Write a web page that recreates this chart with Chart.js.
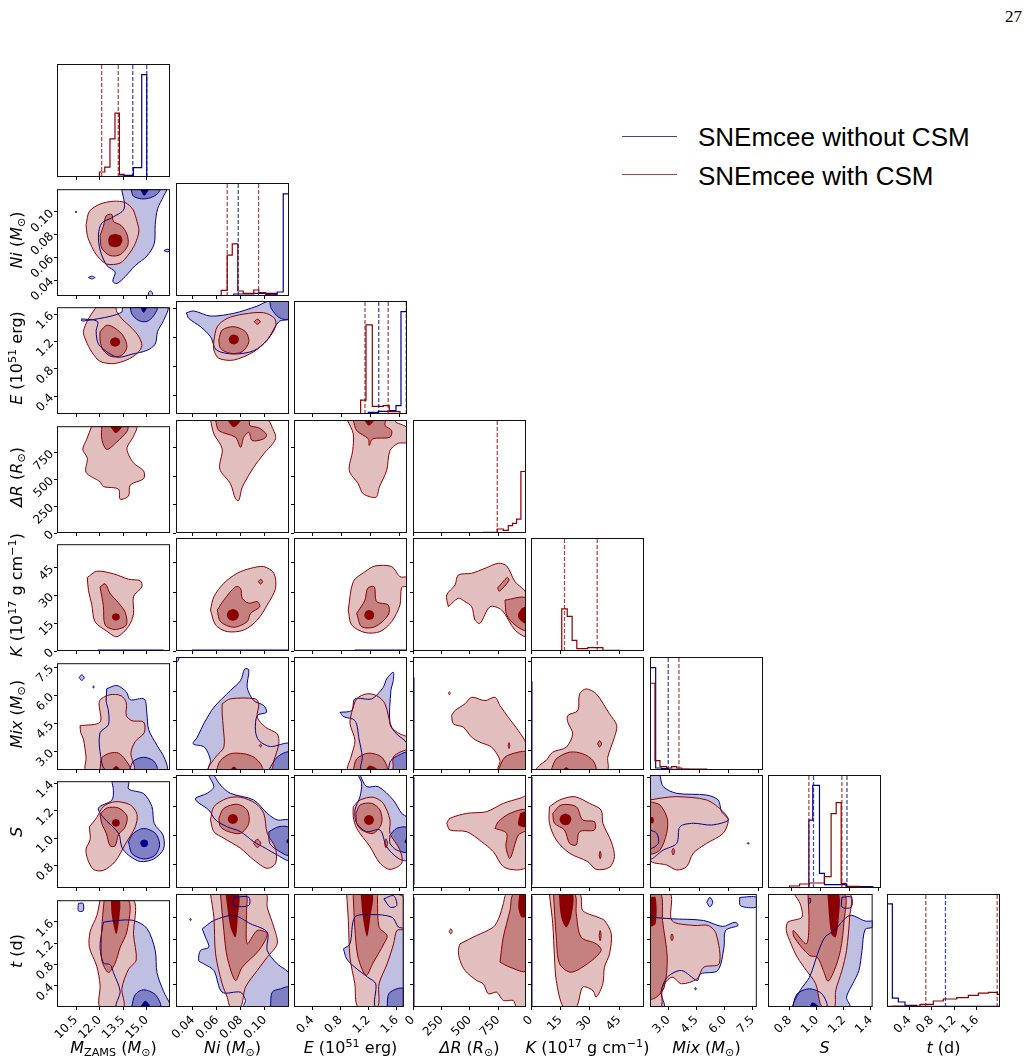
<!DOCTYPE html>
<html><head><meta charset="utf-8">
<script src="https://cdn.jsdelivr.net/npm/chart.js@4/dist/chart.umd.min.js"></script>
<style>
body{margin:0;background:#fff;width:1029px;height:1064px;position:relative;overflow:hidden;font-family:"DejaVu Sans";}
canvas{position:absolute;}
.ttl{position:absolute;font-family:"DejaVu Sans";font-size:16px;line-height:18px;white-space:nowrap;color:#000;}
.ttl sub{font-size:0.7em;vertical-align:-0.3em;line-height:0;}
.ttl sup{font-size:0.7em;vertical-align:0.5em;line-height:0;}
.leg{position:absolute;font-family:"Liberation Sans";font-size:26px;line-height:26px;white-space:nowrap;color:#000;}
.legline{position:absolute;height:0;width:55px;}
</style></head><body>
<div style="position:absolute;right:7px;top:8px;font-family:'Liberation Serif';font-size:17px;line-height:17px;">27</div>
<div class="legline" style="left:622px;top:136px;border-top:1.5px solid rgba(0,0,139,0.75);"></div>
<div class="legline" style="left:622px;top:174px;border-top:1.5px solid rgba(139,0,0,0.75);"></div>
<div class="leg" style="left:698px;top:124px;">SNEmcee without CSM</div>
<div class="leg" style="left:698px;top:163px;">SNEmcee with CSM</div>
<script>
// ---------------- axes ----------------
const paramTitles = [
 '<i>M</i><sub>ZAMS</sub> (<i>M</i><sub>⊙</sub>)',
 '<i>Ni</i> (<i>M</i><sub>⊙</sub>)',
 '<i>E</i> (10<sup>51</sup> erg)',
 '<i>ΔR</i> (<i>R</i><sub>⊙</sub>)',
 '<i>K</i> (10<sup>17</sup> g cm<sup>−1</sup>)',
 '<i>Mix</i> (<i>M</i><sub>⊙</sub>)',
 '<i>S</i>',
 '<i>t</i> (d)'
];
const axisMin = [9.29, 0.026, 0.14, 0, 0, 2.02, 0.637, 0];
const axisMax = [16.48, 0.12, 1.70, 995, 57.7, 7.72, 1.414, 2.01];
const tickVals = [[10.5,12,13.5,15],[0.04,0.06,0.08,0.10],[0.4,0.8,1.2,1.6],[0,250,500,750],[0,15,30,45],[3.0,4.5,6.0,7.5],[0.8,1.0,1.2,1.4],[0.4,0.8,1.2,1.6]];
const tickLabels = [["10.5","12.0","13.5","15.0"],["0.04","0.06","0.08","0.10"],["0.4","0.8","1.2","1.6"],["0","250","500","750"],["0","15","30","45"],["3.0","4.5","6.0","7.5"],["0.8","1.0","1.2","1.4"],["0.4","0.8","1.2","1.6"]];
const HIST_YMAX = 340;

// ---------------- 1D histograms: [binLeftEdge, count] ... [lastEdge, 0] ----------------
const hRed0 = [[11.99,15],[12.33,30],[12.66,115],[12.98,192],[13.26,8],[13.56,0]];
const hBlue0 = [[13.26,3],[13.56,5],[14.15,28],[14.68,308],[15.0,0]];
const hRed1 = [[0.0636,17],[0.0686,123],[0.0728,157],[0.0774,15],[0.0819,8],[0.0907,18],[0.0949,10],[0.1005,5],[0.1102,0]];
const hBlue1 = [[0.0741,6],[0.0907,8],[0.1102,12],[0.1152,307],[0.12,0]];
const hRed2 = [[1.06,42],[1.134,268],[1.221,23],[1.373,25],[1.455,7],[1.603,0]];
const hBlue2 = [[1.166,5],[1.303,8],[1.465,10],[1.548,25],[1.617,308],[1.70,0]];
const hRed3 = [[619,2],[742,12],[795,8],[839,22],[877,29],[912,42],[950,185],[994,0]];
const hBlue3 = [[0,400],[3,0]];
const hRed4 = [[15.7,127],[18.5,104],[21.0,32],[23.4,7],[29.0,10],[33.3,10],[36.7,2],[45.2,0]];
const hBlue4 = [[0,400],[0.2,0]];
const hRed5 = [[2.02,261],[2.272,28],[2.524,10],[2.86,6],[3.113,10],[3.365,6],[3.617,3],[4.88,0]];
const hBlue5 = [[2.02,308],[2.306,6],[2.608,4],[2.944,2],[4.0,0]];
const hRed6 = [[0.785,6],[0.854,12],[0.922,15],[1.025,34],[1.071,224],[1.106,257],[1.14,14],[1.175,5],[1.266,0]];
const hBlue6 = [[0.918,204],[0.945,309],[0.991,44],[1.025,10],[1.175,4],[1.358,0]];
const hRed7 = [[0.0,2],[0.095,3],[0.587,8],[0.824,18],[1.002,24],[1.24,28],[1.447,35],[1.625,42],[1.803,44],[1.963,38],[2.01,0]];
const hBlue7 = [[0.0,310],[0.095,27],[0.202,15],[0.32,5],[0.528,2],[2.0,0]];
// quantile (dashed) lines
const qRed = [[12.13,13.19],[0.0686,0.0947],[1.12,1.44],[742],[17.1,33.8],[3.48],[0.918,1.145],[0.69,1.96]];
const qBlue = [[14.11,15.0],[0.0778],[1.31,1.69],[],[],[2.94],[0.95,1.18],[1.04]];

// ---------------- 2D contours: [light level polys, middle polys, inner polys]; polys are flat x,y lists ----------------
const NONE = [[],[],[]];
const blue10 = [
 [[13.41,0.12,13.56,0.1027,12.78,0.0949,12.14,0.0902,11.93,0.0805,12.03,0.0666,12.46,0.0528,12.99,0.0472,12.84,0.0389,13.1,0.037,13.63,0.0431,14.27,0.0528,15.01,0.0611,15.48,0.0722,15.54,0.0888,15.69,0.1027,16.07,0.1138,16.23,0.12],
  [10.45,0.1,10.5,0.1008,10.55,0.1,10.5,0.0992],[11.3,0.0422,11.5,0.0435,11.7,0.0422,11.5,0.041],[16.1,0.066,16.3,0.0672,16.48,0.066,16.3,0.0648],[15.1,0.026,15.12,0.029,15.22,0.0305,15.35,0.029,15.35,0.026]],
 [[14.0,0.12,14.16,0.1138,14.69,0.1115,15.22,0.1124,15.69,0.116,15.82,0.12]],
 [[14.59,0.12,14.7,0.1165,14.84,0.1145,15.0,0.1165,15.12,0.12]]
];
const red10 = [
 [[11.14,0.0888,11.35,0.1005,12.03,0.1069,12.88,0.1094,13.63,0.1082,14.12,0.1021,14.38,0.0916,14.5,0.0832,14.27,0.0722,13.84,0.0624,13.31,0.055,12.46,0.0541,11.86,0.0611,11.5,0.0694,11.22,0.0791]],
 [[12.03,0.0791,12.24,0.0874,12.42,0.0966,12.78,0.0977,12.88,0.0916,13.36,0.0882,13.74,0.0805,13.8,0.0708,13.31,0.0624,12.67,0.0616,12.14,0.068]],
 [[12.99,0.0807,13.35,0.079,13.45,0.0749,13.3,0.0705,12.99,0.069,12.65,0.0705,12.55,0.0749,12.65,0.079]]
];
const blue20 = [
 [[10.86,1.53,11.86,1.492,11.78,1.345,11.93,1.161,12.56,1.033,13.2,0.968,14.06,1.014,15.01,1.069,15.54,1.161,15.69,1.345,16.07,1.506,16.33,1.70,13.48,1.70,13.42,1.63,12.67,1.566,11.22,1.506,10.86,1.50]],
 [[13.95,1.70,14.06,1.599,14.48,1.506,15.01,1.492,15.44,1.575,15.65,1.70]],
 [[14.59,1.70,14.8,1.62,15.01,1.70]]
];
const red20 = [
 [[11.78,1.70,11.29,1.53,10.97,1.345,11.14,1.207,11.5,1.047,12.03,0.909,12.88,0.876,13.74,0.931,14.38,1.023,14.69,1.138,14.48,1.276,14.06,1.392,13.42,1.53,13.1,1.63,12.99,1.70]],
 [[12.03,1.345,12.46,1.437,12.99,1.392,13.52,1.276,13.74,1.116,13.42,1.0,12.78,0.977,12.24,1.069,12.03,1.207]],
 [[12.99,1.262,13.22,1.24,13.31,1.193,13.22,1.145,12.99,1.124,12.76,1.145,12.67,1.193,12.76,1.24]]
];
const blue21 = [
 [[0.0347,1.538,0.0408,1.562,0.0547,1.492,0.0741,1.53,0.0936,1.63,0.1032,1.70,0.12,1.70,0.12,1.46,0.1115,1.414,0.1019,1.161,0.0907,1.014,0.0741,0.968,0.0597,1.023,0.0547,1.207,0.0464,1.345,0.0366,1.46]],
 [[0.104,1.70,0.12,1.70,0.12,1.45,0.1115,1.474,0.1052,1.599]],
 []
];
const red21 = [
 [[0.0575,1.161,0.0603,1.345,0.0686,1.46,0.0824,1.52,0.099,1.538,0.108,1.46,0.1088,1.345,0.1019,1.161,0.0907,1.0,0.0741,0.885,0.0616,0.909,0.0575,1.023]],
 [[0.0616,1.161,0.0644,1.299,0.0741,1.345,0.0838,1.276,0.0866,1.138,0.0811,1.0,0.0713,0.977,0.063,1.047],[0.0911,1.414,0.0936,1.449,0.0961,1.414,0.0936,1.379]],
 [[0.0741,1.239,0.0771,1.219,0.0783,1.17,0.0771,1.121,0.0741,1.101,0.0711,1.121,0.0699,1.17,0.0711,1.219]]
];
const red30 = [
 [[11.5,995,11.18,873,10.93,779,11.22,697,11.14,565,12.03,477,12.24,433,13.2,409,13.31,315,13.84,345,13.95,447,14.8,506,14.8,579,14.16,653,13.74,785,14.16,902,14.33,995]],
 [[12.14,995,12.14,873,12.46,779,13.1,849,13.74,946,13.78,995]],
 [[12.67,995,13.03,931,13.42,995]]
];
const red31 = [
 [[0.0547,995,0.0575,873,0.0644,741,0.0624,565,0.0713,433,0.0755,301,0.0782,286,0.0811,403,0.0907,579,0.099,697,0.1088,829,0.106,931,0.1019,995]],
 [[0.0589,995,0.0616,902,0.0755,843,0.0797,755,0.0824,843,0.0866,887,0.0894,814,0.099,829,0.1013,867,0.0949,926,0.0874,946,0.0866,995]],
 [[0.0686,995,0.0741,931,0.0797,995]]
];
const red32 = [
 [[0.876,995,0.958,873,0.95,726,0.903,550,1.027,433,1.096,345,1.272,315,1.317,403,1.419,550,1.465,726,1.579,790,1.70,799,1.70,926,1.548,975,1.534,995]],
 [[0.958,995,1.005,902,1.165,829,1.179,770,1.226,829,1.465,843,1.488,902,1.396,946,1.396,995]],
 [[1.106,995,1.175,946,1.244,995]]
];
const red40 = [
 [[11.22,39.7,11.82,43.1,12.88,41.7,13.84,38.8,14.59,37.9,14.69,34.6,14.16,29.5,14.16,20.1,13.84,13.3,13.1,7.7,12.46,10.7,11.71,15.8,11.5,25.2,11.29,32.8]],
 [[12.03,34.6,12.35,36.3,12.67,31.1,13.2,26.0,13.63,20.9,13.7,14.1,12.99,11.6,12.35,14.1,12.24,24.4]],
 [[13.04,20.4,13.22,19.8,13.29,18.4,13.22,17.0,13.04,16.4,12.86,17.0,12.79,18.4,12.86,19.8]]
];
const red41 = [
 [[0.0547,20.9,0.0575,27.7,0.0658,34.6,0.0769,39.7,0.088,42.2,0.099,43.1,0.1074,39.7,0.1088,32.0,0.1019,23.5,0.0936,15.8,0.0824,10.7,0.0686,9.9,0.0589,13.3]],
 [[0.0603,20.9,0.0658,26.0,0.0755,32.8,0.0797,32.0,0.0811,26.9,0.0866,24.4,0.0936,25.2,0.0957,22.6,0.088,19.2,0.0852,15.0,0.0741,12.1,0.063,15.0],[0.0945,35.4,0.0963,36.6,0.0981,35.4,0.0963,34.2]],
 [[0.0733,21.4,0.0768,20.5,0.0783,18.4,0.0768,16.3,0.0733,15.4,0.0698,16.3,0.0683,18.4,0.0698,20.5]]
];
const red42 = [
 [[0.889,20.9,0.958,35.4,1.12,40.5,1.258,43.4,1.488,43.1,1.603,37.9,1.70,37.6,1.70,33.2,1.626,32.5,1.603,23.5,1.488,15.0,1.327,9.9,1.12,9.4,0.936,13.3]],
 [[1.005,19.2,1.12,26.0,1.157,32.0,1.248,32.8,1.281,25.2,1.441,23.5,1.441,18.4,1.258,12.4,1.074,12.4]],
 [[1.179,20.9,1.228,20.2,1.248,18.4,1.228,16.6,1.179,15.9,1.13,16.6,1.11,18.4,1.13,20.2]]
];
const red43 = [
 [[311,22.6,297,28.6,370,33.7,399,38.8,517,39.7,634,42.2,751,44.8,825,43.4,898,35.4,995,29.5,995,7.7,898,10.7,781,20.9,678,22.6,590,14.1,546,15.8,517,22.6,458,25.2,399,26.9]],
 [[810,26.0,995,26.9,995,10.7,898,13.3,825,18.4],[745,32.2,760,30.5,845,36.0,830,37.5]],
 [[956,21.8,995,22.6,995,14.1,942,15.8,924,18.4]]
];
const blue50 = [
 [[12.46,6.36,13.1,6.53,13.7,6.19,13.95,5.77,14.84,5.81,15.01,5.02,15.12,4.18,15.65,3.34,16.12,2.67,16.25,2.02,12.42,2.02,12.03,3.0,12.03,4.01,12.56,4.43,12.56,5.18,12.42,5.69],
  [10.7,6.95,10.86,7.1,11.02,6.95,10.86,6.8],[11.55,6.45,11.61,6.5,11.67,6.45,11.61,6.4]],
 [[13.9,2.02,14.16,2.5,14.8,2.7,15.44,2.5,15.65,2.02]],
 []
];
const red50 = [
 [[10.76,4.38,12.03,4.58,11.99,5.69,12.63,6.03,13.36,5.99,13.7,5.61,13.7,4.93,14.06,4.65,14.8,4.58,14.84,4.01,14.27,3.54,13.99,2.92,14.16,2.02,11.14,2.02,11.14,2.67,10.97,3.67,10.8,4.01]],
 [[12.03,2.02,12.14,2.67,12.67,2.92,13.2,2.92,13.63,2.58,13.95,2.02]],
 [[12.78,2.02,13.04,2.23,13.31,2.02]]
];
const blue51 = [
 [[0.0497,4.43,0.0575,5.18,0.0713,6.03,0.0797,6.53,0.0832,7.12,0.0866,7.07,0.0852,6.19,0.0907,5.52,0.099,5.27,0.1013,4.93,0.0936,4.77,0.0921,4.01,0.0949,3.51,0.1046,3.2,0.12,3.34,0.12,2.02,0.0533,2.02,0.0547,2.5,0.0497,3.17,0.0403,3.34,0.0436,3.67],
  [0.026,7.72,0.0285,7.72,0.0275,7.5,0.026,7.45]],
 [[0.1032,2.02,0.1102,2.67,0.12,2.92,0.12,2.02]],
 []
];
const red51 = [
 [[0.0644,5.36,0.0713,5.61,0.0921,5.61,0.0949,5.36,0.0936,4.68,0.1005,4.18,0.1102,3.84,0.1115,3.34,0.1074,2.5,0.1046,2.02,0.0533,2.02,0.0589,2.67,0.0658,3.17,0.0653,4.18,0.0644,4.85]],
 [[0.0597,2.02,0.063,2.5,0.0713,2.84,0.0824,2.84,0.0907,2.67,0.0963,2.33,0.0977,2.02],[0.0953,3.25,0.0963,3.32,0.0973,3.25,0.0963,3.18]],
 [[0.0708,2.02,0.0741,2.2,0.0769,2.02]]
];
const blue52 = [
 [[0.775,4.93,0.936,5.02,0.982,5.61,1.212,5.61,1.372,6.19,1.419,6.62,1.51,6.95,1.51,6.53,1.478,6.03,1.465,4.35,1.557,3.84,1.70,3.34,1.70,2.02,1.074,2.02,1.083,2.67,1.037,3.6,0.982,4.51,0.82,4.72]],
 [[1.441,2.02,1.478,2.5,1.603,2.8,1.70,2.9,1.70,2.02]],
 []
];
const red52 = [
 [[0.936,4.93,1.005,5.61,1.143,5.86,1.281,5.77,1.396,5.36,1.488,4.18,1.603,3.84,1.70,3.67,1.70,3.09,1.603,2.92,1.51,2.67,1.488,2.02,0.889,2.02,0.927,2.67,0.982,3.51,0.913,4.35]],
 [[0.958,2.02,1.005,2.58,1.165,2.87,1.35,2.67,1.419,2.02]],
 [[1.126,2.02,1.189,2.25,1.30,2.02]]
];
const red53 = [
 [[340,4.77,370,5.02,458,5.36,517,5.69,634,5.52,722,5.69,766,5.27,839,4.68,927,4.01,995,3.34,995,2.02,751,2.02,766,2.5,693,3.17,590,3.42,517,3.67,443,4.18,355,4.35],[312,5.89,320,5.97,328,5.89,320,5.81]],
 [[751,2.02,810,2.67,927,2.92,995,2.92,995,2.02],[838,3.25,845,3.4,852,3.25,845,3.1]],
 []
];
const red54 = [
 [[7.8,2.5,11.1,2.92,18.0,3.17,21.3,3.84,18.8,4.43,18.8,4.77,23.9,5.02,24.8,5.86,28.2,6.11,33.3,5.86,40.1,4.85,43.8,4.26,42.6,3.67,39.2,2.67,38.7,2.02,2.7,2.02,4.3,2.25]],
 [[10.3,2.02,12.9,2.58,19.7,2.92,26.4,2.84,31.6,2.5,32.9,2.02],[34.0,3.34,35.0,3.5,36.0,3.34,35.0,3.18]],
 [[16.2,2.02,18.0,2.16,19.7,2.02]]
];
const blue60 = [
 [[12.78,1.414,13.84,1.414,13.84,1.357,14.8,1.323,15.33,1.23,15.48,1.105,16.03,1.024,16.07,0.921,15.44,0.848,14.59,0.83,13.84,0.876,13.42,0.933,13.2,1.036,12.24,1.15,11.93,1.219,12.78,1.276,12.88,1.345]],
 [[13.84,0.975,14.16,1.036,14.8,1.07,15.54,1.036,15.82,0.955,15.54,0.876,14.8,0.848,14.06,0.887]],
 [[14.84,0.99,15.02,0.982,15.09,0.962,15.02,0.942,14.84,0.934,14.66,0.942,14.59,0.962,14.66,0.982]]
];
const red60 = [
 [[11.35,1.082,11.82,1.15,12.24,1.23,12.99,1.265,13.95,1.242,14.38,1.173,14.27,1.082,13.63,0.955,12.99,0.83,12.24,0.765,11.61,0.772,11.22,0.852,11.14,0.921,11.4,0.99]],
 [[12.03,1.173,12.46,1.219,13.2,1.219,13.74,1.162,13.63,1.082,13.2,1.024,12.99,0.944,12.67,0.944,12.42,1.036,12.14,1.105]],
 [[13.04,1.139,13.22,1.131,13.29,1.111,13.22,1.091,13.04,1.083,12.86,1.091,12.79,1.111,12.86,1.131]]
];
const blue61 = [
 [[0.0575,1.414,0.063,1.345,0.0713,1.288,0.0907,1.242,0.1019,1.15,0.1102,1.105,0.12,1.10,0.12,0.83,0.1102,0.864,0.1005,0.91,0.0907,0.955,0.0797,1.024,0.0686,1.058,0.0589,1.105,0.0533,1.173,0.0436,1.23,0.0422,1.254,0.0519,1.288,0.0575,1.334,0.0533,1.414]],
 [[0.1032,1.024,0.1115,1.058,0.12,1.05,0.12,0.864,0.1102,0.898,0.104,0.944]],
 [[0.118,0.965,0.12,0.975,0.12,0.945,0.118,0.95]]
];
const red61 = [
 [[0.0547,1.105,0.0575,1.196,0.0686,1.254,0.0797,1.261,0.0921,1.219,0.099,1.15,0.1019,1.013,0.1088,0.91,0.1088,0.807,0.1019,0.772,0.0907,0.83,0.0797,0.91,0.0658,0.979,0.0575,1.024]],
 [[0.0616,1.116,0.0658,1.185,0.0769,1.213,0.0852,1.173,0.0866,1.082,0.0797,1.013,0.0699,1.024,0.063,1.058],[0.0906,0.944,0.0936,0.972,0.0966,0.944,0.0936,0.916]],
 [[0.0733,1.145,0.0763,1.135,0.0775,1.111,0.0763,1.087,0.0733,1.077,0.0703,1.087,0.0691,1.111,0.0703,1.135]]
];
const blue62 = [
 [[1.051,1.414,1.143,1.334,1.303,1.334,1.51,1.242,1.626,1.15,1.70,1.12,1.70,0.83,1.579,0.841,1.419,0.921,1.327,1.036,1.143,1.024,1.005,1.082,0.982,1.173,1.051,1.265,1.074,1.357,1.027,1.414]],
 [[1.465,1.001,1.557,1.047,1.70,1.05,1.70,0.887,1.557,0.898,1.465,0.944]],
 [[1.67,0.965,1.70,0.975,1.70,0.945,1.67,0.95]]
];
const red62 = [
 [[0.958,1.196,1.051,1.242,1.234,1.261,1.372,1.219,1.465,1.105,1.465,1.013,1.603,0.898,1.626,0.807,1.465,0.765,1.327,0.807,1.189,0.921,1.005,1.047,0.958,1.127]],
 [[0.996,1.15,1.051,1.208,1.212,1.219,1.327,1.173,1.35,1.082,1.234,1.013,1.074,1.036,1.005,1.082],[1.39,0.944,1.41,0.975,1.43,0.944,1.41,0.913]],
 [[1.175,1.139,1.224,1.129,1.244,1.105,1.224,1.081,1.175,1.071,1.126,1.081,1.106,1.105,1.126,1.129]]
];
const red63 = [
 [[297,1.082,326,1.116,473,1.15,649,1.162,795,1.219,942,1.254,995,1.265,995,0.784,912,0.761,795,0.784,707,0.887,605,0.955,473,1.024,326,1.036]],
 [[722,1.047,751,1.093,854,1.15,995,1.173,995,1.036,927,1.001,854,0.841,818,0.921,825,1.013]],
 [[942,1.15,995,1.16,995,1.058,927,1.07]]
];
const red64 = [
 [[9.4,1.196,14.6,1.242,22.2,1.265,29.9,1.219,35.8,1.173,36.7,1.082,41.0,0.955,42.6,0.852,40.1,0.779,33.3,0.765,29.0,0.818,19.7,0.876,12.9,0.967,9.4,1.082]],
 [[11.1,1.15,15.4,1.208,23.1,1.196,26.4,1.105,32.4,1.093,32.4,1.036,24.8,1.024,23.1,0.933,19.7,0.944,17.1,1.036,12.0,1.082],[34.8,0.864,35.3,0.89,35.8,0.864,35.3,0.838]],
 [[17.6,1.149,19.7,1.137,20.6,1.109,19.7,1.081,17.6,1.069,15.5,1.081,14.6,1.109,15.5,1.137]]
];
const blue65 = [
 [[2.52,1.414,2.69,1.334,3.37,1.288,4.88,1.276,5.46,1.242,5.63,1.162,5.97,1.105,5.13,1.07,4.2,1.082,3.53,1.058,3.37,0.944,2.69,0.898,2.02,0.841,2.02,1.414],[6.92,0.944,6.97,0.95,7.02,0.944,6.97,0.938]],
 [[2.02,1.036,2.36,1.013,2.44,0.944,2.02,0.91]],
 [[2.02,0.97,2.12,0.96,2.02,0.95]]
];
const red65 = [
 [[2.02,1.242,2.52,1.254,3.37,1.265,4.88,1.242,5.71,1.162,5.97,1.105,5.71,1.013,4.88,0.944,4.2,0.876,3.87,0.784,3.37,0.761,2.86,0.795,2.02,0.83]],
 [[2.02,1.23,2.52,1.208,2.89,1.116,2.86,1.013,2.52,0.898,2.02,0.876],[3.12,0.887,3.19,0.91,3.26,0.887,3.19,0.864]],
 [[2.02,1.127,2.19,1.12,2.19,1.085,2.02,1.082]]
];
const blue70 = [
 [[12.24,1.597,13.1,1.628,14.16,1.628,15.01,1.48,15.54,1.064,15.65,0.649,16.07,0.294,16.48,0.057,16.48,0,13.1,0,13.31,0.294,12.88,0.649,12.67,0.797,12.24,0.827,12.03,1.124,12.14,1.42],
  [10.65,1.95,10.95,1.95,10.95,1.81,10.65,1.81]],
 [[14.04,0,14.27,0.235,14.8,0.324,15.54,0.235,15.86,0]],
 [[14.59,0,14.91,0.116,15.22,0]]
];
const red70 = [
 [[12.03,2.01,11.82,1.717,11.4,1.42,11.35,1.124,11.82,0.768,12.03,0.413,12.03,0,13.52,0,13.42,0.352,13.84,0.708,14.33,0.886,14.16,1.361,14.16,2.01]],
 [[12.29,2.01,12.14,1.48,12.14,0.886,12.56,0.649,12.99,0.827,13.31,1.124,13.74,1.42,13.84,2.01]],
 [[12.72,2.01,12.78,1.717,13.06,1.373,13.27,1.717,13.27,2.01]]
];
const blue71 = [
 [[0.0478,1.39,0.0575,1.539,0.0741,1.628,0.088,1.48,0.1019,1.331,0.1019,1.005,0.1102,0.768,0.12,0.59,0.12,0,0.0824,0,0.0838,0.116,0.0797,0.263,0.0644,0.263,0.0575,0.649,0.0491,0.768,0.0449,0.827,0.0464,1.005,0.0533,1.064,0.0505,1.242],
  [0.0741,1.953,0.0866,1.953,0.0866,1.806,0.0741,1.806],[0.0375,1.555,0.0381,1.575,0.0387,1.555,0.0381,1.535]],
 [[0.1046,0,0.106,0.263,0.113,0.324,0.12,0.35,0.12,0]],
 []
];
const red71 = [
 [[0.0547,2.01,0.0575,1.597,0.0589,0.946,0.0644,0.413,0.0686,0.174,0.0713,0,0.0797,0,0.0838,0.352,0.0936,0.649,0.1019,0.886,0.1102,1.124,0.1074,1.42,0.1019,1.775,0.1005,2.01]],
 [[0.063,2.01,0.0658,1.361,0.0686,0.886,0.0755,0.471,0.0811,0.708,0.0949,1.005,0.1019,1.302,0.0936,1.361,0.0852,1.124,0.0847,1.717,0.0838,2.01]],
 [[0.0672,2.01,0.0713,1.42,0.0755,1.242,0.0774,1.597,0.0782,2.01]]
];
const blue72 = [
 [[0.844,1.035,0.936,1.124,1.005,1.597,1.234,1.645,1.534,1.597,1.626,1.42,1.70,1.39,1.70,0,1.303,0,1.303,0.413,1.189,0.53,1.005,0.708,0.889,0.857],
  [1.419,1.925,1.557,1.98,1.603,1.806,1.51,1.775]],
 [[1.465,0,1.488,0.235,1.603,0.324,1.70,0.324,1.70,0]],
 []
];
const red72 = [
 [[0.889,2.01,0.913,1.539,0.936,0.886,1.005,0.413,1.051,0,1.327,0,1.35,0.413,1.465,0.768,1.557,1.124,1.603,1.361,1.70,1.39,1.70,1.95,1.557,2.01]],
 [[0.982,2.01,1.005,1.42,1.051,0.886,1.165,0.56,1.258,0.768,1.419,1.124,1.465,1.272,1.35,1.42,1.327,1.953,1.327,2.01]],
 [[1.088,2.01,1.12,1.597,1.179,1.254,1.226,1.597,1.258,2.01]]
];
const red73 = [
 [[414,1.124,560,1.272,707,1.42,759,1.597,795,1.836,825,2.01,995,2.01,995,0,912,0,883,0.116,795,0.116,737,0.263,663,0.235,619,0.413,560,0.471,458,0.649,414,0.827,399,1.005],[320,1.343,332,1.39,345,1.343,332,1.30]],
 [[766,0.797,795,1.242,854,1.717,883,2.01,995,2.01,995,0.649,854,0.708]],
 [[936,2.01,927,1.775,956,1.597,995,1.62,995,2.01]]
];
const red74 = [
 [[9.4,2.01,11.1,1.48,12.0,0.886,12.9,0.471,16.6,0,23.1,0,26.4,0.352,31.6,0.294,33.3,0.174,36.7,0.413,37.5,0.708,40.1,0.946,41.0,1.302,37.5,1.539,34.1,1.597,26.4,1.717,24.8,2.01]],
 [[11.5,2.01,12.9,1.242,14.6,0.768,20.5,0.619,29.9,0.797,35.8,1.005,33.3,1.124,25.6,1.242,23.1,1.658,22.2,2.01],[34.8,1.272,35.3,1.36,35.8,1.272,35.3,1.18]],
 [[14.2,2.01,15.4,1.597,18.0,1.42,20.5,1.597,21.3,2.01]]
];
const blue75 = [
 [[2.02,1.597,3.19,1.569,4.88,1.539,5.89,1.432,6.56,1.509,6.72,1.45,6.05,1.361,5.97,1.064,5.63,0.649,4.71,0.59,4.54,0.471,3.7,0.649,2.94,0.53,2.61,0.263,2.78,0,2.02,0],
  [5.05,1.864,5.21,1.95,5.37,1.864,5.21,1.78],[6.81,1.95,7.72,1.95,7.72,1.78,6.85,1.80],[4.41,0.324,4.45,0.345,4.49,0.324,4.45,0.303]],
 [],
 []
];
const red75 = [
 [[2.02,2.01,3.11,2.01,3.19,1.539,4.37,1.45,5.13,1.45,5.55,1.302,5.71,0.768,4.88,0.708,4.54,0.502,3.7,0.413,3.19,0.53,2.69,0.352,2.61,0,2.02,0]],
 [[2.02,2.01,2.61,2.01,2.69,1.539,2.94,0.886,2.78,0.352,2.36,0.174,2.02,0.15],[3.12,1.242,3.19,1.30,3.26,1.242,3.19,1.18]],
 [[2.02,1.95,2.32,1.95,2.32,1.48,2.02,1.44]]
];
const blue76 = [
 [[1.414,1.53,1.414,1.42,1.358,1.38,1.335,1.005,1.312,0.649,1.266,0.413,1.22,0.174,1.243,0,0.831,0,0.876,0.294,0.945,0.53,1.014,1.005,1.06,1.242,1.129,1.361,1.243,1.628,1.358,1.53],
  [1.186,1.953,1.255,1.953,1.255,1.775,1.186,1.775],[0.94,1.93,0.952,1.93,0.952,1.85,0.94,1.85]],
 [[0.819,0,0.854,0.235,0.945,0.324,1.037,0.235,1.071,0]],
 [[0.945,0,0.968,0.085,1.014,0]]
];
const red76 = [
 [[0.831,2.01,0.876,1.836,0.888,1.597,0.785,1.509,0.773,1.361,0.808,1.124,0.854,0.886,0.922,0.649,0.991,0.413,1.025,0.057,1.048,0,1.129,0,1.14,0.294,1.186,0.649,1.22,1.005,1.243,1.597,1.243,2.01]],
 [[0.934,2.01,0.941,1.48,0.922,1.124,0.826,1.361,0.831,1.242,0.945,0.916,1.003,0.886,1.048,0.649,1.083,0.459,1.129,0.649,1.175,1.005,1.202,1.539,1.202,2.01]],
 [[1.078,2.01,1.106,1.302,1.14,1.242,1.163,1.597,1.163,2.01]]
];
// degenerate blue posteriors (model without CSM: dR = K = 0)
const blueEdge40 = [[11.88,0,16.07,0]];
const blueEdge41 = [[0.0395,0,0.12,0]];
const blueEdge42 = [[0.98,0,1.70,0]];
const blueEdge53 = [[0,2.02,0,6.7]];
const blueEdge54 = [[0,2.02,0,6.5]];
const blueEdge63 = [[0,0.66,0,1.40]];
const blueEdge64 = [[0,0.66,0,1.40]];
const blueEdge73 = [[0,0.02,0,1.95]];
const blueEdge74 = [[0,0.02,0,1.98]];

const panels2d = [
 [1,0,blue10,red10,[]],
 [2,0,blue20,red20,[]],[2,1,blue21,red21,[]],
 [3,0,NONE,red30,[]],[3,1,NONE,red31,[]],[3,2,NONE,red32,[]],
 [4,0,NONE,red40,blueEdge40],[4,1,NONE,red41,blueEdge41],[4,2,NONE,red42,blueEdge42],[4,3,NONE,red43,[]],
 [5,0,blue50,red50,[]],[5,1,blue51,red51,[]],[5,2,blue52,red52,[]],[5,3,NONE,red53,blueEdge53],[5,4,NONE,red54,blueEdge54],
 [6,0,blue60,red60,[]],[6,1,blue61,red61,[]],[6,2,blue62,red62,[]],[6,3,NONE,red63,blueEdge63],[6,4,NONE,red64,blueEdge64],[6,5,blue65,red65,[]],
 [7,0,blue70,red70,[]],[7,1,blue71,red71,[]],[7,2,blue72,red72,[]],[7,3,NONE,red73,blueEdge73],[7,4,NONE,red74,blueEdge74],[7,5,blue75,red75,[]],[7,6,blue76,red76,[]]
];
const histRed = [hRed0,hRed1,hRed2,hRed3,hRed4,hRed5,hRed6,hRed7];
const histBlue = [hBlue0,hBlue1,hBlue2,hBlue3,hBlue4,hBlue5,hBlue6,hBlue7];

// ---------------- rendering ----------------
const BLUE='0,0,139', RED='139,0,0';
const LEVEL_ALPHA=[0.25,0.5,1];
const PANEL=113, PADL=42, PADT=3, PADR=3, PADB=42;
function panelLeft(c){return Math.round(57+118.5*c);}
function panelTop(r){return Math.round(64+118.5*r);}
// opaque tint of a colour over white (filled contours are opaque, lines drawn above all fills)
function tint(rgb,a){return 'rgb('+rgb.split(',').map(v=>Math.round(255-a*(255-(+v)))).join(',')+')';}

const framePlugin={id:'frame',afterDraw(chart){const a=chart.chartArea,ctx=chart.ctx;ctx.save();ctx.strokeStyle='#111';ctx.lineWidth=1;ctx.strokeRect(a.left+0.5,a.top+0.5,a.right-a.left-1,a.bottom-a.top-1);ctx.restore();}};

function fmt(i,v){const k=tickVals[i].indexOf(v);return k<0?'':tickLabels[i][k];}
function tickFont(){return {family:'DejaVu Sans',size:12};}
function axisX(c,show){
  return {type:'linear',position:'bottom',min:axisMin[c],max:axisMax[c],
    afterBuildTicks:s=>{s.ticks=tickVals[c].map(v=>({value:v}));},
    afterFit:s=>{s.height=PADB;},
    grid:{display:true,drawOnChartArea:false,drawTicks:true,tickLength:3,tickColor:'#000',tickWidth:1,color:'#000',lineWidth:1},
    border:{display:false},
    ticks:{display:show,autoSkip:false,minRotation:45,maxRotation:45,padding:3,color:'#000',font:tickFont(),callback:v=>fmt(c,v)}};
}
function axisY(r,show){
  return {type:'linear',position:'left',min:axisMin[r],max:axisMax[r],
    afterBuildTicks:s=>{s.ticks=tickVals[r].map(v=>({value:v}));},
    afterFit:s=>{s.width=PADL;},
    grid:{display:true,drawOnChartArea:false,drawTicks:true,tickLength:3,tickColor:'#000',tickWidth:1,color:'#000',lineWidth:1},
    border:{display:false},
    ticks:{display:show,autoSkip:false,minRotation:45,maxRotation:45,padding:2,color:'#000',font:tickFont(),callback:v=>fmt(r,v)}};
}
function histY(){
  return {type:'linear',position:'left',min:0,max:HIST_YMAX,
    afterFit:s=>{s.width=PADL;},
    grid:{display:false},border:{display:false},ticks:{display:false}};
}
function makeCanvas(r,c){
  const cv=document.createElement('canvas');
  cv.width=PADL+PANEL+PADR; cv.height=PADT+PANEL+PADB;
  cv.style.left=(panelLeft(c)-PADL)+'px'; cv.style.top=(panelTop(r)-PADT)+'px';
  cv.style.width=cv.width+'px'; cv.style.height=cv.height+'px';
  document.body.appendChild(cv); return cv;
}
function makeChart(r,c,datasets,isHist){
  const n=datasets.length;
  datasets.forEach((d,i)=>{d.order=n-i; d.clip=0; d.pointRadius=0;});
  new Chart(makeCanvas(r,c).getContext('2d'),{
    type:'line',data:{datasets},
    options:{responsive:false,animation:false,devicePixelRatio:1,events:[],
      layout:{padding:{top:PADT,right:PADR,left:0,bottom:0}},
      plugins:{legend:{display:false},tooltip:{enabled:false}},
      scales:{x:axisX(c,r===7),y:isHist?histY():axisY(r,c===0)}},
    plugins:[framePlugin]});
}
function toPts(flat){const pts=[];for(let i=0;i<flat.length;i+=2)pts.push({x:flat[i],y:flat[i+1]});pts.push({x:flat[0],y:flat[1]});return pts;}
function fillSets(levels,rgb,out){
  levels.forEach((polys,k)=>polys.forEach(flat=>out.push({data:toPts(flat),fill:'shape',backgroundColor:tint(rgb,LEVEL_ALPHA[k]),borderColor:'rgba(0,0,0,0)',borderWidth:0,tension:0.3})));
}
function lineSets(levels,rgb,out){
  levels.forEach((polys,k)=>{ if(k===2) return; polys.forEach(flat=>out.push({data:toPts(flat),fill:false,borderColor:`rgb(${rgb})`,borderWidth:1,tension:0.3}));});
}
function histSet(bins,c,rgb){
  const pts=[{x:axisMin[c],y:0}];
  bins.forEach(b=>pts.push({x:b[0],y:b[1]}));
  pts.push({x:axisMax[c],y:0});
  return {data:pts,stepped:true,fill:false,borderColor:`rgb(${rgb})`,borderWidth:1.2,tension:0};
}
function qSets(qs,rgb,out){
  qs.forEach(q=>out.push({data:[{x:q,y:0},{x:q,y:HIST_YMAX}],fill:false,borderColor:`rgba(${rgb},0.7)`,borderWidth:1.3,borderDash:[4,2],tension:0}));
}

// diagonal histograms
for(let i=0;i<8;i++){
  const ds=[histSet(histBlue[i],i,BLUE),histSet(histRed[i],i,RED)];
  qSets(qBlue[i],BLUE,ds); qSets(qRed[i],RED,ds);
  makeChart(i,i,ds,true);
}
// 2D panels: all fills first (blue, red), then all contour lines (blue, red)
panels2d.forEach(([r,c,bl,rd,edges])=>{
  const ds=[];
  fillSets(bl,BLUE,ds);
  fillSets(rd,RED,ds);
  lineSets(bl,BLUE,ds);
  edges.forEach(e=>ds.push({data:[{x:e[0],y:e[1]},{x:e[2],y:e[3]}],fill:false,borderColor:`rgb(${BLUE})`,borderWidth:3,tension:0}));
  lineSets(rd,RED,ds);
  makeChart(r,c,ds,false);
});

// axis titles
for(let c=0;c<8;c++){
  const d=document.createElement('div');d.className='ttl';d.innerHTML=paramTitles[c];
  d.style.left=(panelLeft(c)+56.5)+'px';d.style.top='1039px';d.style.transform='translateX(-50%)';
  document.body.appendChild(d);
}
for(let r=1;r<8;r++){
  const d=document.createElement('div');d.className='ttl';d.innerHTML=paramTitles[r];
  d.style.left='17px';d.style.top=(panelTop(r)+56.5)+'px';d.style.transform='translate(-50%,-50%) rotate(-90deg)';
  document.body.appendChild(d);
}
</script>
</body></html>
